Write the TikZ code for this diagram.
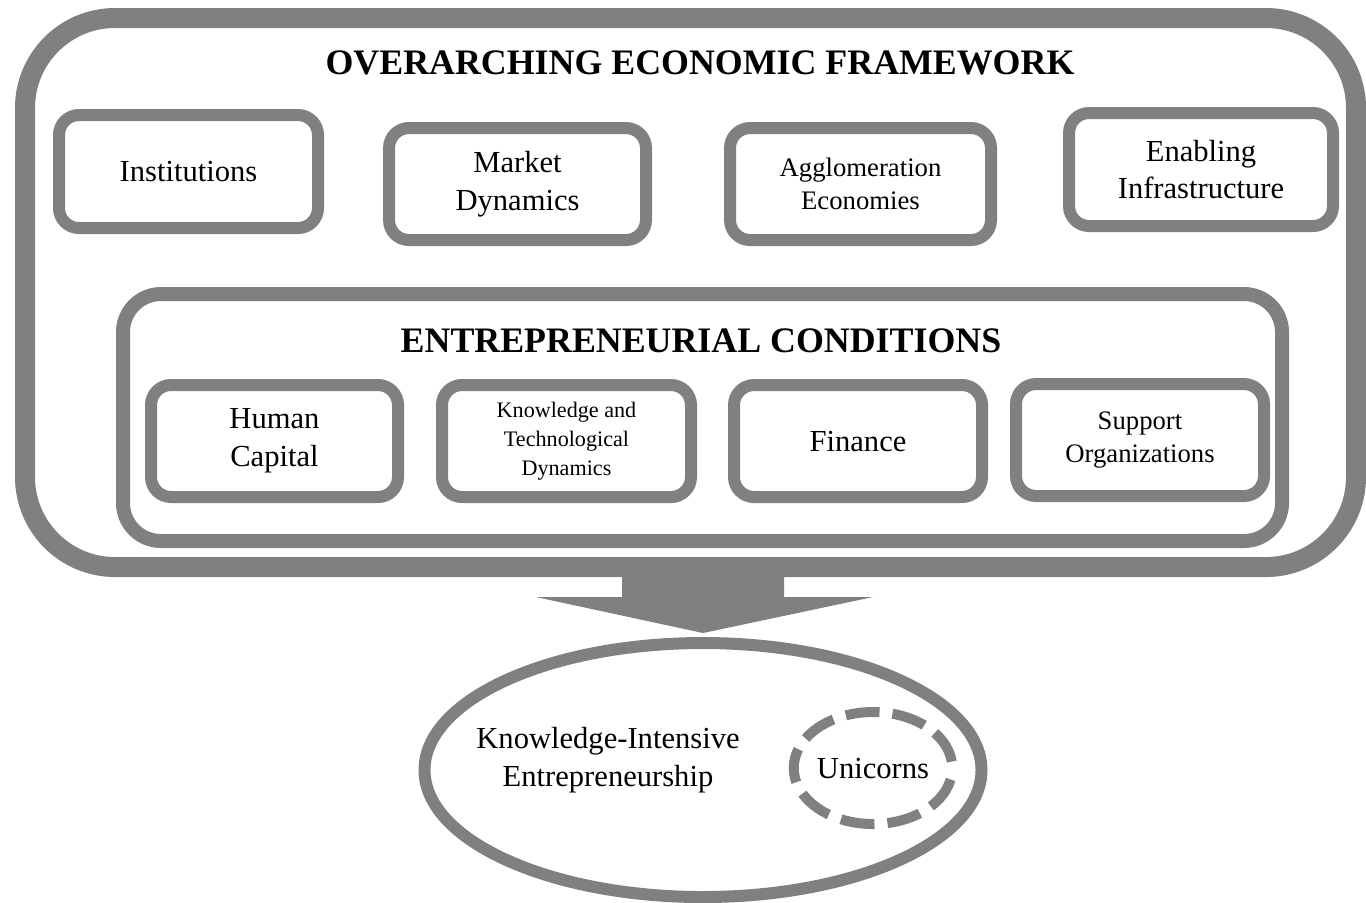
\documentclass[tikz,border=0pt]{standalone}
\usepackage{fontspec}
\setmainfont{Liberation Serif}
\usetikzlibrary{shapes.geometric}
\usetikzlibrary{calc}

\definecolor{framegray}{RGB}{128,128,128}

\tikzset{
  factor/.style={draw=framegray, line width=0.12cm, rounded corners=0.2cm,
    minimum height=1.12cm, align=center, outer sep=0pt,
    font=\fontsize{8.7}{10.8}\selectfont},
  heading/.style={font=\fontsize{10.2}{12}\selectfont\bfseries},
}

\begin{document}
\begin{tikzpicture}
  \useasboundingbox (0,0) rectangle (13.66,-9.02);
  % overarching framework
  \node[draw=framegray, line width=0.2cm, rounded corners=0.9cm, outer sep=0pt,
    minimum width=13.31cm, minimum height=5.49cm] (frame) at (6.905,-2.925) {};
  \node[heading] (frametitle) at (7.00,-0.63) {OVERARCHING ECONOMIC FRAMEWORK};
  \node[factor, minimum width=2.59cm, minimum height=1.13cm] (inst) at (1.885,-1.715) {Institutions};
  \node[factor, minimum width=2.57cm] (mkt) at (5.175,-1.84) {Market\\Dynamics};
  \node[factor, minimum width=2.61cm, font=\fontsize{7.6}{9.4}\selectfont] (aggl) at (8.605,-1.84) {Agglomeration\\Economies};
  \node[factor, minimum width=2.64cm, minimum height=1.13cm] (enab) at (12.01,-1.695) {Enabling\\Infrastructure};
  % entrepreneurial conditions
  \node[draw=framegray, line width=0.14cm, rounded corners=0.38cm, outer sep=0pt,
    minimum width=11.59cm, minimum height=2.47cm] (cond) at (7.025,-4.175) {};
  \node[heading] (condtitle) at (7.01,-3.41) {ENTREPRENEURIAL CONDITIONS};
  \node[factor, minimum width=2.47cm] (hum) at (2.745,-4.41) {Human\\Capital};
  \node[factor, minimum width=2.49cm, font=\fontsize{6.3}{8.25}\selectfont] (know) at (5.665,-4.41) {Knowledge and\\Technological\\Dynamics};
  \node[factor, minimum width=2.48cm] (fin) at (8.58,-4.41) {Finance};
  \node[factor, minimum width=2.48cm, font=\fontsize{7.6}{9.4}\selectfont] (supp) at (11.40,-4.40) {Support\\Organizations};
  % outcome
  \node[ellipse, draw=framegray, line width=0.12cm, outer sep=0pt,
    minimum width=5.57cm, minimum height=2.54cm] (kie) at (7.03,-7.70) {};
  \node[align=center, font=\fontsize{8.7}{10.8}\selectfont] (kietext) at (6.08,-7.60) {Knowledge-Intensive\\Entrepreneurship};
  \node[ellipse, draw=framegray, line width=0.1cm, outer sep=0pt, inner sep=0pt,
    dash pattern=on 0.34cm off 0.13cm, dash phase=0.405cm,
    minimum width=1.56cm, minimum height=1.12cm,
    font=\fontsize{8.7}{10.8}\selectfont] (uni) at (8.73,-7.68) {Unicorns};
  % block arrow
  \fill[framegray] ($(kie.north |- frame.south)+(-0.81,0)$) -- ($(kie.north |- frame.south)+(0.81,0)$)
    -- ($(kie.north)+(0.81,0.46)$) -- ($(kie.north)+(1.70,0.46)$) -- ($(kie.north)+(0,0.10)$)
    -- ($(kie.north)+(-1.67,0.46)$) -- ($(kie.north)+(-0.81,0.46)$) -- cycle;
\end{tikzpicture}
\end{document}
